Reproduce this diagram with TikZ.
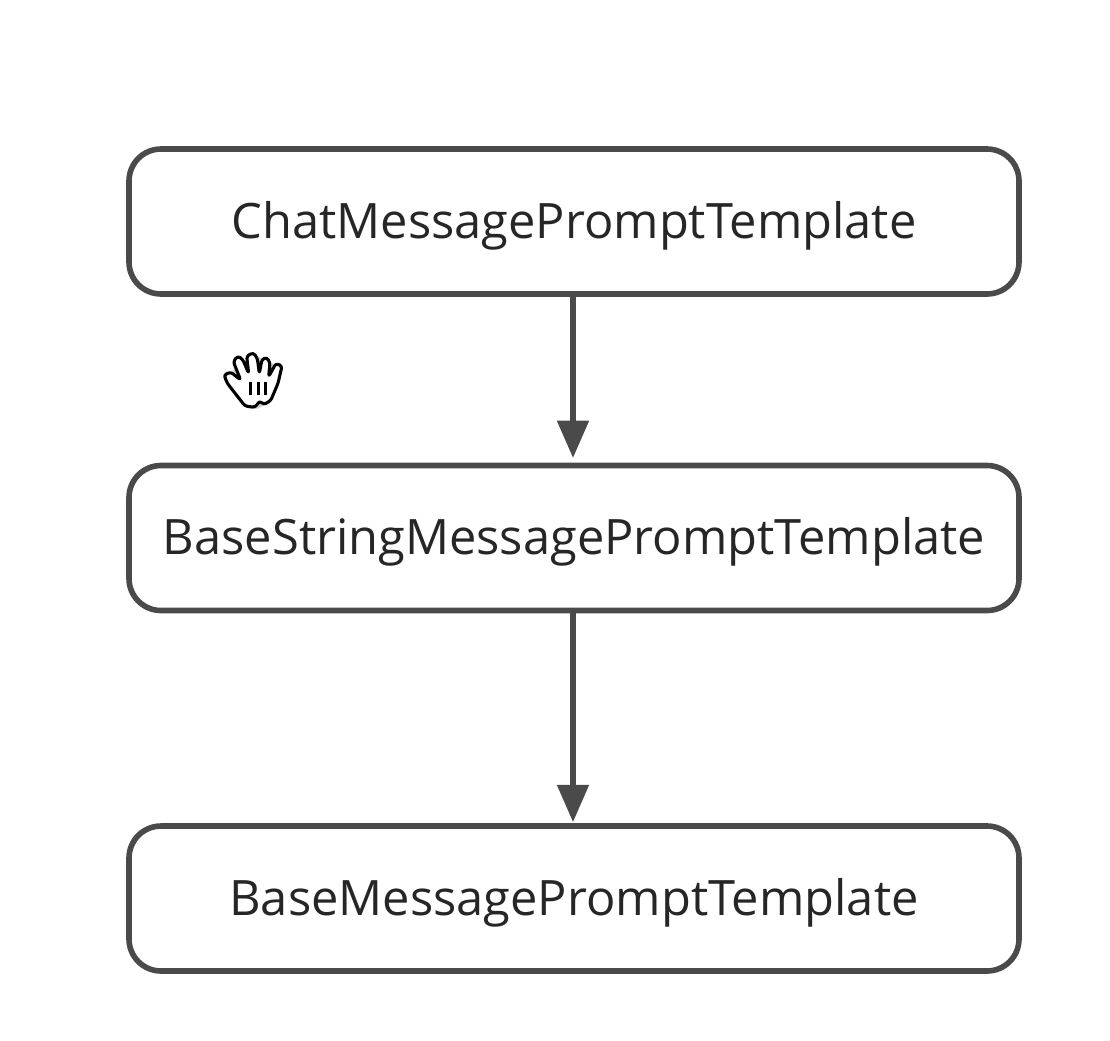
\documentclass[tikz,border=0pt]{standalone}
\usepackage{fontspec}
\setmainfont{Open Sans}
\usetikzlibrary{arrows.meta}
\definecolor{edgegray}{HTML}{4A4A4A}
\definecolor{labelgray}{HTML}{262626}
\tikzset{
  flowbox/.style={draw=edgegray, line width=4.2pt, rounded corners=24pt, fill=white,
    minimum width=667.5pt, minimum height=108.75pt, inner sep=0pt, text=labelgray,
    font=\fontsize{36.6pt}{42pt}\selectfont, text height=25pt, text depth=0pt, align=center},
  flowarrow/.style={draw=edgegray, line width=4.4pt,
    -{Triangle[length=28pt,width=23pt,fill=edgegray]}, shorten >=3.5pt}
}
\begin{document}
\begin{tikzpicture}[x=0.75pt,y=-0.75pt]
\useasboundingbox (0,0) rectangle (1110,1040);
\node[flowbox] (chat) at (574,221.5) {ChatMessagePromptTemplate};
\node[flowbox] (basestr) at (574,538) {BaseStringMessagePromptTemplate};
\node[flowbox] (basemsg) at (574,898.5) {BaseMessagePromptTemplate};
\draw[flowarrow] ([xshift=-0.75pt]chat.south) -- ([xshift=-0.75pt]basestr.north);
\draw[flowarrow,shorten >=0.75pt] ([xshift=-0.75pt]basestr.south) -- ([xshift=-0.75pt]basemsg.north);
\begin{scope}[shift={(200,330)},x=0.25pt,y=-0.25pt]
  \def\handpath{(135,228) -- (82,160) -- (72,135) -- (92,126) -- (122,150) -- (100,95) -- (113,78) -- (128,88) -- (146,130) -- (140,78) -- (160,68) -- (172,85) -- (178,130) -- (186,88) -- (200,82) -- (210,98) -- (206,140) -- (228,100) -- (246,108) -- (234,160) -- (212,212) -- (190,224) -- (180,212) -- (165,232) -- cycle}
  \fill[black,opacity=0.18,rounded corners=2pt] ([shift={(2,6)}]135,228) -- ([shift={(2,6)}]82,160) -- ([shift={(2,6)}]72,135) -- ([shift={(2,6)}]160,68) -- ([shift={(2,6)}]246,108) -- ([shift={(2,6)}]212,212) -- ([shift={(2,6)}]165,232) -- cycle;
  \draw[black,line width=2.3pt,fill=white,rounded corners=2pt,line join=round] \handpath;
  \foreach \hx in {152,175,197}{
    \draw[black,line width=1.8pt] (\hx,156) -- (\hx,195);
  }
\end{scope}
\end{tikzpicture}
\end{document}
